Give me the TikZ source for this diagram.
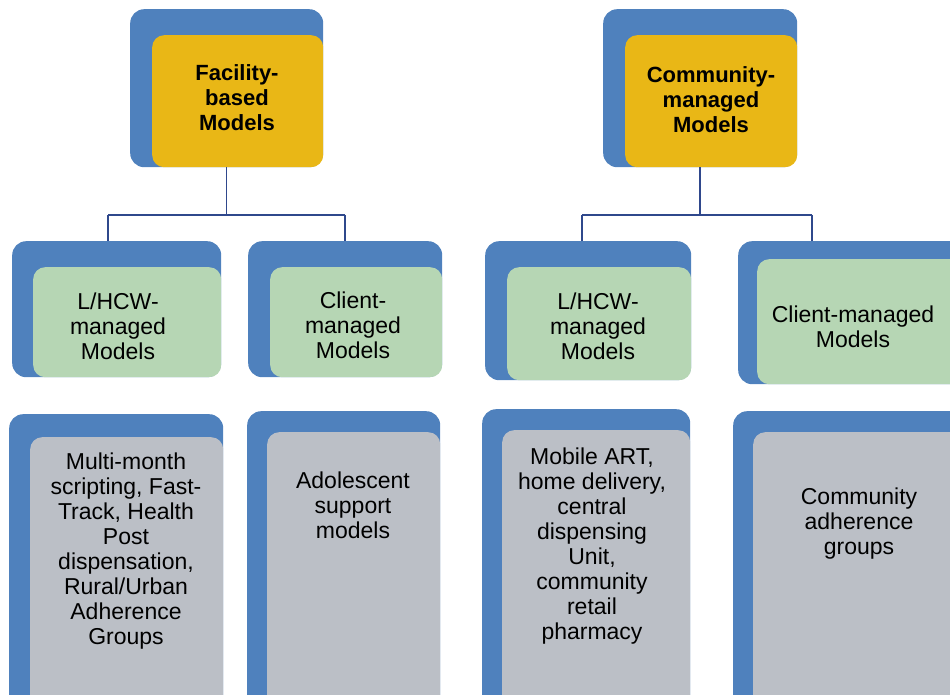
\documentclass[tikz,border=0pt]{standalone}
\usepackage{fontspec}
\setmainfont{Liberation Sans}
\usetikzlibrary{
	calc,
	positioning
}
\definecolor{FrameBlue}{RGB}{79,129,189}
\definecolor{HeadGold}{RGB}{233,183,22}
\definecolor{MidGreen}{RGB}{182,214,180}
\definecolor{LeafGray}{RGB}{187,191,198}
\definecolor{LinkBlue}{RGB}{47,72,140}

\begin{document}
\begin{tikzpicture}[x=1pt, y=-1pt,
		backplate/.style={fill=FrameBlue, rounded corners=14pt, anchor=north west, inner sep=0pt},
		card/.style={rounded corners=12pt, anchor=north west, inner sep=0pt},
		head/.style={card, fill=HeadGold},
		mid/.style={card, fill=MidGreen},
		leaf/.style={card, fill=LeafGray},
		headtext/.style={align=center, font=\bfseries\fontsize{22}{25}\selectfont},
		boxtext/.style={align=center, font=\fontsize{23}{25}\selectfont},
		link/.style={LinkBlue, line width=1.5pt}]
				\useasboundingbox (0,0) rectangle (950,695);
				\clip (0,0) rectangle (950,695);
				\node[backplate, minimum width=193, minimum height=158] (fac-bg) at (130,9) {};
				\node[head, minimum width=171, minimum height=132] (fac) at (152,35) {};
				\node[headtext] (fac-t) at (237,98) {Facility-\\based\\Models};
				\node[backplate, minimum width=194, minimum height=158] (com-bg) at (603,9) {};
				\node[head, minimum width=172, minimum height=132] (com) at (625,35) {};
				\node[headtext] (com-t) at (711,100) {Community-\\managed\\Models};
				\node[backplate, minimum width=209, minimum height=136] (m1-bg) at (12,241) {};
				\node[mid, minimum width=188, minimum height=110] (m1) at (33,267) {};
				\node[boxtext] (m1-t) at (118,326) {L/HCW-\\managed\\Models};
				\node[backplate, minimum width=194, minimum height=136] (m2-bg) at (248,241) {};
				\node[mid, minimum width=172, minimum height=110] (m2) at (270,267) {};
				\node[boxtext] (m2-t) at (353,325) {Client-\\managed\\Models};
				\node[backplate, minimum width=206, minimum height=139] (m3-bg) at (485,241) {};
				\node[mid, minimum width=184, minimum height=113] (m3) at (507,267) {};
				\node[boxtext] (m3-t) at (598,326) {L/HCW-\\managed\\Models};
				\node[backplate, minimum width=230, minimum height=143] (m4-bg) at (738,241) {};
				\node[mid, minimum width=211, minimum height=125] (m4) at (757,259) {};
				\node[boxtext] (m4-t) at (853,327) {Client-managed\\Models};
				\node[backplate, minimum width=214, minimum height=300] (l1-bg) at (9,414) {};
				\node[leaf, minimum width=193, minimum height=277] (l1) at (30,437) {};
				\node[boxtext] (l1-t) at (126,551) {Multi-month\\scripting, Fast-\\Track, Health\\Post\\dispensation,\\Rural/Urban\\Adherence\\Groups};
				\node[backplate, minimum width=193, minimum height=300] (l2-bg) at (247,411) {};
				\node[leaf, minimum width=173, minimum height=280] (l2) at (267,432) {};
				\node[boxtext] (l2-t) at (353,505) {Adolescent\\support\\models};
				\node[backplate, minimum width=208, minimum height=300] (l3-bg) at (482,409) {};
				\node[leaf, minimum width=188, minimum height=280] (l3) at (502,430) {};
				\node[boxtext] (l3-t) at (592,546) {Mobile ART,\\home delivery,\\central\\dispensing\\Unit,\\community\\retail\\pharmacy};
				\node[backplate, minimum width=240, minimum height=300] (l4-bg) at (733,411) {};
				\node[leaf, minimum width=220, minimum height=280] (l4) at (753,432) {};
				\node[boxtext] (l4-t) at (859,524) {Community\\adherence\\groups};
				\coordinate (fac-l) at (108,215);
				\coordinate (fac-r) at (345,215);
				\coordinate (com-l) at (582,215);
				\coordinate (com-r) at (812,215);
				\draw[link] (fac-bg.south) -- (fac-bg.south |- fac-l);
				\draw[link] (fac-l) -- (fac-r);
				\draw[link] (fac-l) -- (fac-l |- m1-bg.north);
				\draw[link] (fac-r) -- (fac-r |- m2-bg.north);
				\draw[link] (com-bg.south) -- (com-bg.south |- com-l);
				\draw[link] (com-l) -- (com-r);
				\draw[link] (com-l) -- (com-l |- m3-bg.north);
				\draw[link] (com-r) -- (com-r |- m4-bg.north);
			\end{tikzpicture}
\end{document}
